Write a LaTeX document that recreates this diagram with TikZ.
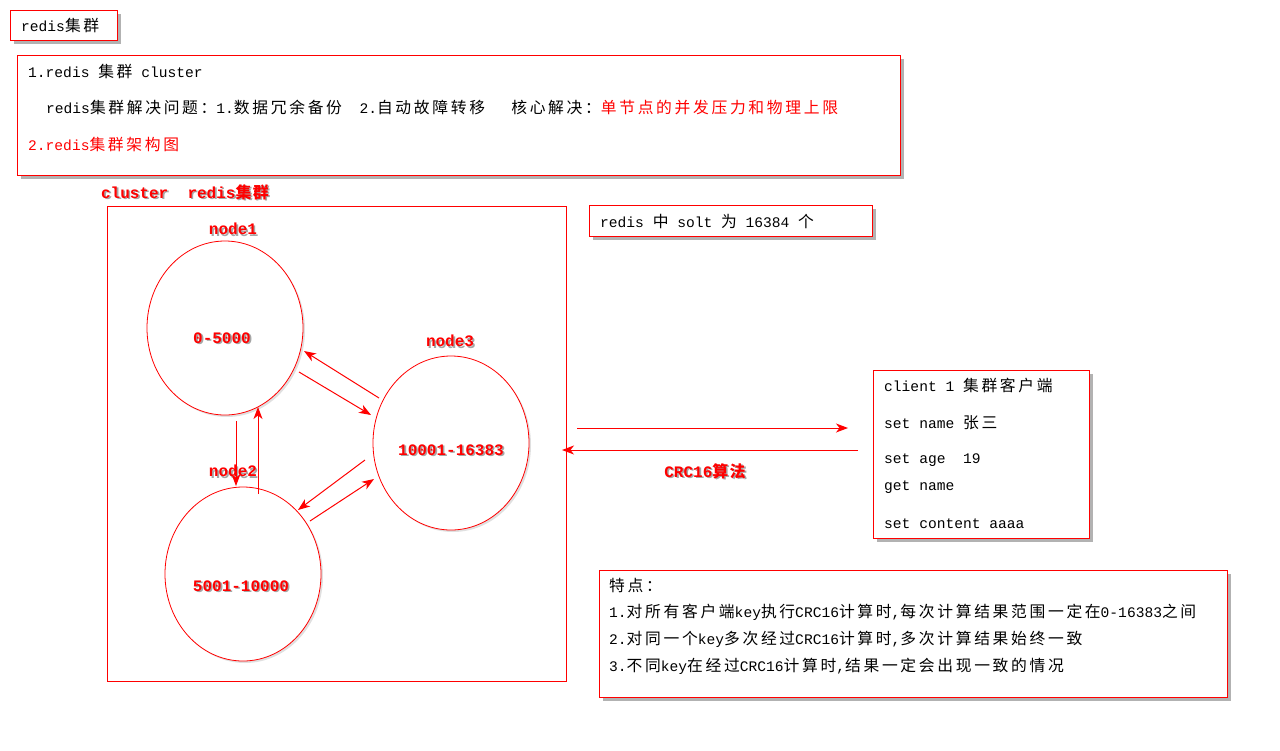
\documentclass[tikz,border=0pt]{standalone}
\usepackage{fontspec}
\setmainfont{Liberation Mono}
\newfontfamily\cjk[Scale=1.08,LetterSpace=17]{Noto Sans CJK SC}
\newfontfamily\cjkl[LetterSpace=8]{Noto Sans CJK SC}
\newcommand\C[1]{{\cjk #1}}
\usetikzlibrary{shapes.geometric,arrows.meta,shadows,calc}
\tikzset{
  box/.style={draw=red, line width=1.3pt, fill=white, anchor=north west, inner sep=0pt,
    drop shadow={shadow xshift=3pt, shadow yshift=-3pt, fill=black, opacity=0.3}},
  ell/.style={ellipse, draw=red, line width=0.8pt, fill=white, inner sep=0pt,
    minimum width=156pt, minimum height=174pt,
    drop shadow={shadow xshift=2pt, shadow yshift=-2pt, fill=black, opacity=0.12}},
  arr/.style={draw=red, line width=1pt, -{Stealth[length=12pt,width=9pt,inset=3.5pt]}},
  txt/.style={anchor=west, inner sep=0pt, font=\fontsize{14.6}{16}\selectfont},
  lbl/.style={text=red, inner sep=0pt, font=\bfseries\fontsize{16}{18}\selectfont},
  lblsh/.style={text=black, opacity=0.35, inner sep=0pt, font=\bfseries\fontsize{16}{18}\selectfont},
}
\newcommand\shlabel[3]{%
  \node[lblsh] at ($(#1)+(1.6,1.6)$) {#3};
  \node[lbl] (#2) at (#1) {#3};}
\begin{document}
\begin{tikzpicture}[x=1pt,y=-1pt]
\useasboundingbox (0,0) rectangle (1280,750);
\fill[white] (0,0) rectangle (1280,750);

% top title box
\node[box, minimum width=107pt, minimum height=30pt] (tb) at (10,10) {};
\node[txt] (tt) at (21,25) {redis\C{集群}};

% big description box
\node[box, minimum width=883pt, minimum height=120pt] (db) at (17,55) {};
\node[txt] (d1) at (28,71) {1.redis \C{集群} cluster};
\node[txt] (d2) at (46,107) {redis\C{集群解决问题：}1.\C{数据冗余备份}\ \ 2.\C{自动故障转移}\ \ \ \C{核心解决：}\textcolor{red}{\C{单节点的并发压力和物理上限}}};
\node[txt, text=red] (d3) at (28,144) {2.redis\C{集群架构图}};

% cluster frame
\node[draw=red, line width=1pt, anchor=north west, minimum width=459pt, minimum height=475pt, inner sep=0pt] (cl) at (107,206) {};
\coordinate (clabel) at (185,192);
\shlabel{clabel}{cltitle}{cluster\ \ redis{\cjkl\bfseries 集群}}

% ellipses
\node[ell] (n1) at (225,328) {};
\node[ell] (n3) at (451,443) {};
\node[ell] (n2) at (243,574) {};
\coordinate (r1) at (222,338);
\coordinate (r3) at (451,450);
\coordinate (r2) at (241,586);
\shlabel{r1}{t1}{0-5000}
\shlabel{r3}{t3}{10001-16383}
\shlabel{r2}{t2}{5001-10000}
\coordinate (l1) at (233,229);
\coordinate (l3) at (450,341);
\coordinate (l2) at (233,471);
\shlabel{l1}{name1}{node1}
\shlabel{l3}{name3}{node3}
\shlabel{l2}{name2}{node2}

% arrows between nodes
\coordinate (a13s) at (299,372); \coordinate (a13e) at (371,415);
\coordinate (a31s) at (379,398); \coordinate (a31e) at (304,351);
\coordinate (a12s) at (236,421); \coordinate (a12e) at (236,486);
\coordinate (a21s) at (258,494); \coordinate (a21e) at (258,407);
\coordinate (a32s) at (365,460); \coordinate (a32e) at (298,510);
\coordinate (a23s) at (310,521); \coordinate (a23e) at (374,479);
\draw[arr] (a13s) -- (a13e);
\draw[arr] (a31s) -- (a31e);
\draw[arr] (a12s) -- (a12e);
\draw[arr] (a21s) -- (a21e);
\draw[arr] (a32s) -- (a32e);
\draw[arr] (a23s) -- (a23e);

% solt box
\node[box, minimum width=283pt, minimum height=31pt] (sb) at (589,205) {};
\node[txt] (st) at (600,221) {redis \C{中} solt \C{为} 16384 \C{个}};

% client box
\node[box, minimum width=216pt, minimum height=168pt] (cb) at (873,370) {};
\node[txt] (c1) at (884,385) {client 1 \C{集群客户端}};
\node[txt] (c2) at (884,423) {set name \C{张三}};
\node[txt] (c3) at (884,460) {set age\ \ 19};
\node[txt] (c4) at (884,487) {get name};
\node[txt] (c5) at (884,524) {set content aaaa};

% client arrows
\coordinate (ca1) at (577,428); \coordinate (ca2) at (848,428);
\coordinate (cb1) at (858,450); \coordinate (cb2) at (562,450);
\draw[arr] (ca1) -- (ca2);
\draw[arr] (cb1) -- (cb2);
\coordinate (crc) at (705,471);
\shlabel{crc}{crct}{CRC16{\cjkl\bfseries 算法}}

% features box
\node[box, minimum width=628pt, minimum height=127pt] (fb) at (599,570) {};
\node[txt] (f0) at (609,585) {\C{特点：}};
\node[txt] (f1) at (609,612) {1.\C{对所有客户端}key\C{执行}CRC16\C{计算时},\C{每次计算结果范围一定在}0-16383\C{之间}};
\node[txt] (f2) at (609,639) {2.\C{对同一个}key\C{多次经过}CRC16\C{计算时},\C{多次计算结果始终一致}};
\node[txt] (f3) at (609,666) {3.\C{不同}key\C{在经过}CRC16\C{计算时},\C{结果一定会出现一致的情况}};
\end{tikzpicture}
\end{document}
